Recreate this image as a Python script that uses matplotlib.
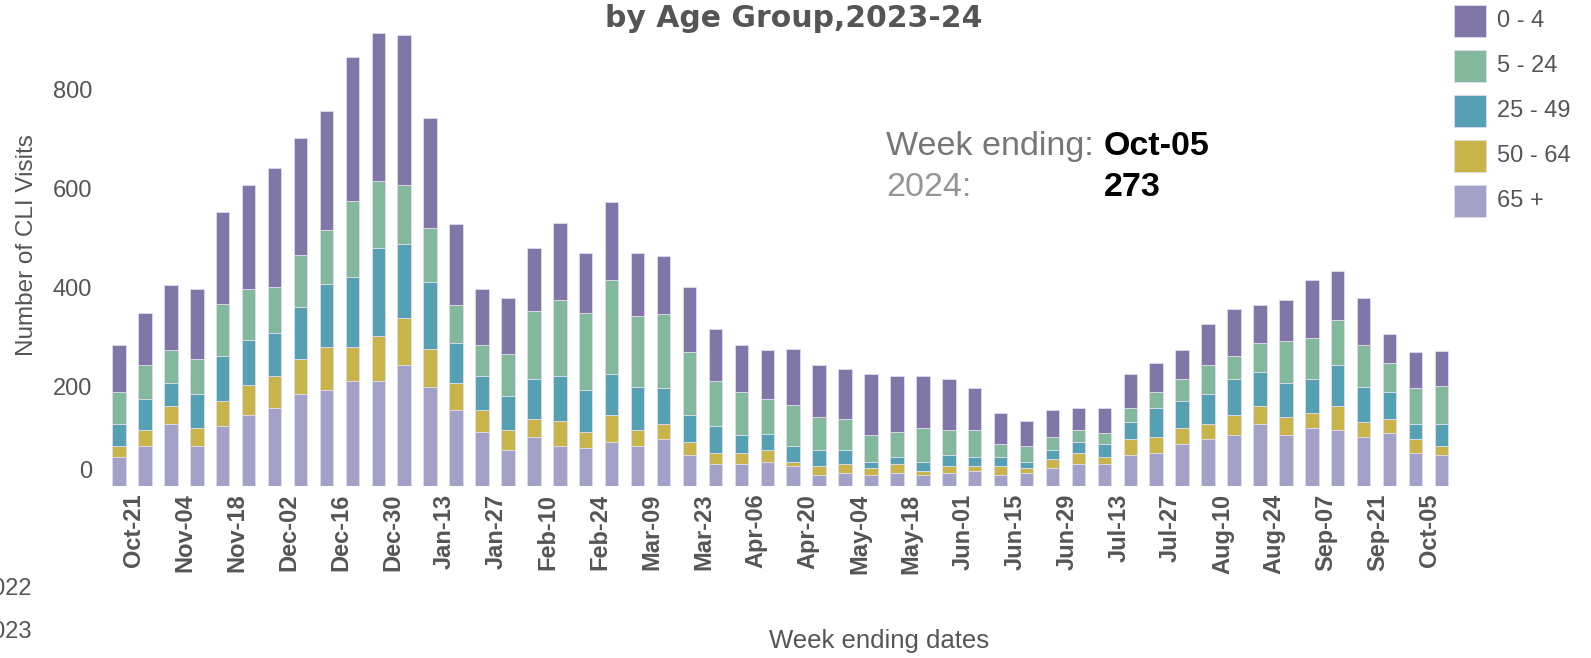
import numpy as np
import matplotlib
matplotlib.use("Agg")
import matplotlib.pyplot as plt
from matplotlib.patches import Rectangle
from matplotlib.transforms import ScaledTranslation

# Week ending dates, Oct 2023 - Oct 2024
WEEKS = [
    "Oct-14", "Oct-21", "Oct-28", "Nov-04", "Nov-11", "Nov-18", "Nov-25",
    "Dec-02", "Dec-09", "Dec-16", "Dec-23", "Dec-30", "Jan-06", "Jan-13",
    "Jan-20", "Jan-27", "Feb-03", "Feb-10", "Feb-17", "Feb-24", "Mar-02",
    "Mar-09", "Mar-16", "Mar-23", "Mar-30", "Apr-06", "Apr-13", "Apr-20",
    "Apr-27", "May-04", "May-11", "May-18", "May-25", "Jun-01", "Jun-08",
    "Jun-15", "Jun-22", "Jun-29", "Jul-06", "Jul-13", "Jul-20", "Jul-27",
    "Aug-03", "Aug-10", "Aug-17", "Aug-24", "Aug-31", "Sep-07", "Sep-14",
    "Sep-21", "Sep-28", "Oct-05",
]

# CLI visits per age group (stacked bottom to top: 65+, 50-64, 25-49, 5-24, 0-4)
AGE_65_PLUS = [58, 81, 126, 81, 121, 144, 158, 185, 194, 212,
               212, 244, 199, 153, 108, 72, 99, 81, 76, 89,
               81, 94, 62, 44, 44, 49, 40, 22, 27, 22,
               27, 22, 27, 31, 22, 27, 36, 44, 44, 62,
               67, 85, 94, 103, 125, 103, 117, 112, 99, 107,
               67, 62]
AGE_50_64 = [23, 32, 36, 36, 50, 59, 63, 72, 86, 68,
             91, 95, 77, 54, 45, 41, 36, 50, 32, 54,
             32, 31, 27, 23, 23, 23, 9, 18, 17, 14,
             17, 9, 13, 9, 18, 9, 18, 23, 14, 32,
             32, 32, 32, 40, 36, 36, 31, 50, 31, 28,
             27, 18]
AGE_25_49 = [45, 63, 45, 68, 91, 91, 87, 104, 127, 141,
             176, 149, 135, 81, 68, 68, 81, 91, 86, 82,
             86, 73, 54, 54, 36, 32, 32, 32, 28, 13,
             14, 18, 22, 18, 18, 13, 18, 22, 27, 36,
             59, 54, 59, 73, 68, 68, 68, 82, 69, 54,
             31, 45]
AGE_5_24 = [64, 68, 68, 72, 104, 103, 94, 104, 109, 153,
            135, 118, 109, 77, 63, 86, 136, 154, 154, 190,
            144, 149, 127, 91, 86, 72, 82, 68, 63, 54,
            50, 68, 50, 54, 27, 32, 27, 23, 22, 28,
            32, 45, 59, 46, 59, 86, 82, 91, 85, 58,
            73, 77]
AGE_0_4 = [95, 104, 131, 140, 186, 209, 240, 236, 240, 290,
           299, 303, 222, 163, 113, 113, 127, 154, 122, 158,
           127, 117, 132, 104, 95, 99, 113, 104, 100, 122,
           113, 104, 103, 86, 63, 50, 54, 46, 50, 68,
           58, 59, 82, 95, 77, 81, 117, 99, 95, 60,
           73, 71]

GROUPS = ["65 +", "50 - 64", "25 - 49", "5 - 24", "0 - 4"]
COLORS = ["#a3a1c8", "#c9b44a", "#55a0b3", "#82b89b", "#8077a8"]
YTICKS = [0, 200, 400, 600, 800]

GREY = "#555555"
SANS = "Liberation Sans"

W, H = 1591, 658
fig = plt.figure(figsize=(W / 100, H / 100), dpi=100, facecolor="white")


def fx(px):
    return px / W


def fy(px):
    # pixel measured from the top edge -> figure fraction
    return 1 - px / H


# plot area in pixels
bar_step = 25.93
first_center = 119
ax_left, ax_right, ax_base = 100, 1460, 486
y_top = 960
px_per_unit = 0.496

ax = fig.add_axes([fx(ax_left), (H - ax_base) / H,
                   fx(ax_right - ax_left), y_top * px_per_unit / H])

x = np.arange(len(WEEKS))
series = [AGE_65_PLUS, AGE_50_64, AGE_25_49, AGE_5_24, AGE_0_4]
bottom = np.zeros(len(WEEKS))
for vals, color, name in zip(series, COLORS, GROUPS):
    vals = np.array(vals, dtype=float)
    ax.bar(x, vals, bottom=bottom, width=0.52, color=color,
           edgecolor="#dedcec", linewidth=0.6, label=name)
    bottom += vals

ax.set_xlim(-(first_center - ax_left) / bar_step,
            len(WEEKS) - 1 + (ax_right - (first_center + bar_step * (len(WEEKS) - 1))) / bar_step)
ax.set_ylim(0, y_top)
for spine in ax.spines.values():
    spine.set_visible(False)

# x ticks: every other week
ax.set_xticks(x[1::2])
ax.set_xticklabels(WEEKS[1::2], rotation=90, ha="right", fontsize=17,
                   fontweight="bold", color=GREY, family=SANS)
ax.tick_params(axis="x", length=0, pad=5.5)

ax.set_yticks(YTICKS)
ax.set_yticklabels([str(v) for v in YTICKS], fontsize=17, color=GREY, family=SANS)
ax.tick_params(axis="y", length=0, pad=5.8)
# the zero label sits a little above the baseline
zero_lbl = ax.get_yticklabels()[0]
zero_lbl.set_transform(zero_lbl.get_transform() + ScaledTranslation(0, 0.16, fig.dpi_scale_trans))

# axis titles
fig.text(fx(27), fy(245), "Number of CLI Visits", rotation=90, ha="center", va="center",
         fontsize=17.5, color=GREY, family=SANS)
fig.text(fx(879), fy(641), "Week ending dates", ha="center", va="center",
         fontsize=18.5, color=GREY, family=SANS)

# title (second line)
fig.text(fx(794), fy(27), "by Age Group,2023-24", ha="center", va="baseline",
         fontsize=21.5, fontweight="bold", color=GREY, family="DejaVu Sans")

# season selector labels on the left edge
fig.text(fx(32), fy(589), "2022", ha="right", va="center", fontsize=17, color=GREY, family=SANS)
fig.text(fx(32), fy(632), "2023", ha="right", va="center", fontsize=17, color=GREY, family=SANS)

# latest week readout
last_total = int(bottom[-1])
fig.text(fx(886), fy(155), "Week ending:", ha="left", va="baseline",
         fontsize=24.5, color="#767676", family=SANS)
fig.text(fx(1104), fy(155), WEEKS[-1], ha="left", va="baseline",
         fontsize=24.5, fontweight="bold", color="black", family=SANS)
fig.text(fx(886), fy(196), "2024:", ha="left", va="baseline",
         fontsize=24.5, color="#959595", family=SANS)
fig.text(fx(1104), fy(196), str(last_total), ha="left", va="baseline",
         fontsize=24.5, fontweight="bold", color="black", family=SANS)

# legend, youngest group first
for i, (name, color) in enumerate(zip(GROUPS[::-1], COLORS[::-1])):
    yc = 21 + 45 * i
    fig.add_artist(Rectangle((fx(1454), fy(yc + 16)), fx(32), 32 / H,
                             transform=fig.transFigure, facecolor=color,
                             edgecolor="#dedcec", linewidth=0.6))
    fig.text(fx(1497), fy(yc), name, ha="left", va="center",
             fontsize=17, color=GREY, family=SANS)

fig.savefig("out.png", dpi=100, facecolor="white")
plt.close(fig)
